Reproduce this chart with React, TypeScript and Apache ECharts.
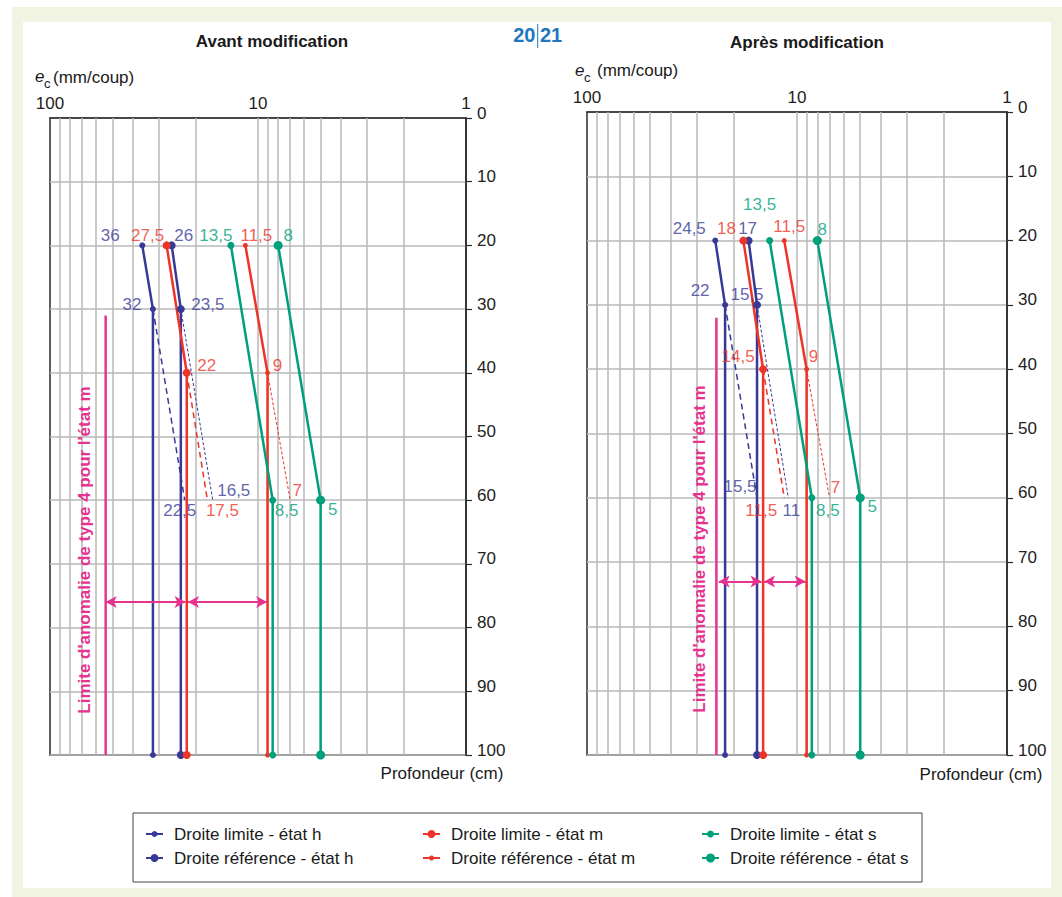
import React, { useEffect, useRef } from 'react';
import * as echarts from 'echarts';

// ---------- DATA ----------
// Depth ticks (cm) and e_c axis extent (mm/coup)
const DEPTH_MIN = 0;
const DEPTH_MAX = 100;
const DEPTH_STEP = 10;
const EC_MIN = 1;
const EC_MAX = 100;
const EC_GRID_VALUES = [2, 3, 4, 5, 6, 7, 8, 9, 10, 20, 30, 40, 50, 60, 70, 80, 90];

const SERIES_NAMES = [
  'Droite limite - état h',
  'Droite référence - état h',
  'Droite limite - état m',
  'Droite référence - état m',
  'Droite limite - état s',
  'Droite référence - état s',
];

// Avant modification: [e_c, profondeur]
const avantLimiteH = [[36, 20], [32, 30], [32, 100]];
const avantReferenceH = [[26, 20], [23.5, 30], [23.5, 100]];
const avantLimiteM = [[27.5, 20], [22, 40], [22, 100]];
const avantReferenceM = [[11.5, 20], [9, 40], [9, 100]];
const avantLimiteS = [[13.5, 20], [8.5, 60], [8.5, 100]];
const avantReferenceS = [[8, 20], [5, 60], [5, 100]];
const avantExtraLimiteH = [[32, 30], [22.5, 60]];
const avantExtraReferenceH = [[23.5, 30], [16.5, 60]];
const avantExtraLimiteM = [[22, 40], [17.5, 60]];
const avantExtraReferenceM = [[9, 40], [7, 60]];
const avantAnomalie = [[54, 31], [54, 100]];
const avantArrows = [[[54, 76], [22.3, 76]], [[21.7, 76], [9.05, 76]]];
const avantLabels = [
  [36, 20], [27.5, 20], [26, 20], [13.5, 20], [11.5, 20], [8, 20],
  [32, 30], [23.5, 30], [22, 40], [9, 40],
  [16.5, 60], [22.5, 60], [17.5, 60], [7, 60], [8.5, 60], [5, 60],
];
const avantLabelStates = ['h', 'm', 'h', 's', 'm', 's', 'h', 'h', 'm', 'm', 'h', 'h', 'm', 'm', 's', 's'];

// Après modification
const apresLimiteH = [[24.5, 20], [22, 30], [22, 100]];
const apresReferenceH = [[17, 20], [15.5, 30], [15.5, 100]];
const apresLimiteM = [[18, 20], [14.5, 40], [14.5, 100]];
const apresReferenceM = [[11.5, 20], [9, 40], [9, 100]];
const apresLimiteS = [[13.5, 20], [8.5, 60], [8.5, 100]];
const apresReferenceS = [[8, 20], [5, 60], [5, 100]];
const apresExtraLimiteH = [[22, 30], [15.5, 60]];
const apresExtraReferenceH = [[15.5, 30], [11, 60]];
const apresExtraLimiteM = [[14.5, 40], [11.5, 60]];
const apresExtraReferenceM = [[9, 40], [7, 60]];
const apresAnomalie = [[24.2, 32], [24.2, 100]];
const apresArrows = [[[23.6, 73], [14.75, 73]], [[14.35, 73], [9.1, 73]]];
const apresLabels = [
  [24.5, 20], [18, 20], [17, 20], [13.5, 20], [11.5, 20], [8, 20],
  [22, 30], [15.5, 30], [14.5, 40], [9, 40],
  [15.5, 60], [11.5, 60], [11, 60], [7, 60], [8.5, 60], [5, 60],
];
const apresLabelStates = ['h', 'm', 'h', 's', 'm', 's', 'h', 'h', 'm', 'm', 'h', 'm', 'h', 'm', 's', 's'];

// ---------- STYLE ----------
const FONT = '"Liberation Sans", Arial, Helvetica, sans-serif';
const COLORS: Record<string, string> = { h: '#363a96', m: '#ee3426', s: '#00a07c' };
const PINK = '#e6338f';
const GRID_GRAY = '#b9b9b9';
const DARK = '#2a2a2a';
const FS = 17;
// marker sizes: limite h, référence h, limite m, référence m, limite s, référence s
const MARKER_SIZES = [6, 8, 8, 5, 7, 9];
const avantLabelOffsets = [
  [-32, -10], [-19, -10], [12, -10], [-15, -10], [11, -10], [10, -10],
  [-21, -5], [27, -5], [20, -7], [10, -7],
  [21, -10], [-5, 10], [15, 10], [7, -10], [14, 10], [12, 9],
];
const apresLabelOffsets = [
  [-26, -12], [-17, -12], [-1, -12], [-10, -36], [5, -14], [5, -11],
  [-25, -14], [-10, -10], [-25, -13], [7, -13],
  [-17, -11], [-23, 13], [3, 13], [6, -10], [16, 13], [12, 9],
];

const fmt = (v: number) => String(v).replace('.', ',');

function mainLine(name: string, data: number[][], color: string, size: number, gi: number) {
  return {
    type: 'line', name, xAxisIndex: gi, yAxisIndex: gi, data,
    symbol: 'circle', symbolSize: size, showSymbol: true, showAllSymbol: true,
    lineStyle: { color, width: 2.5 }, itemStyle: { color },
    z: 4, silent: true, emphasis: { disabled: true },
  };
}

function extraLine(id: string, data: number[][], color: string, limite: boolean, gi: number) {
  return {
    type: 'line', name: id, xAxisIndex: gi, yAxisIndex: gi, data,
    symbol: 'none',
    lineStyle: limite ? { color, width: 1.5, type: [6, 4] } : { color, width: 1, type: [3, 2] },
    z: 3, silent: true, emphasis: { disabled: true },
  };
}

function panelSeries(gi: number, lines: number[][][], extras: number[][][], anomalie: number[][],
  arrows: number[][][], labels: number[][], states: string[], offsets: number[][]) {
  const states6 = ['h', 'h', 'm', 'm', 's', 's'];
  const out: any[] = [];
  out.push({
    type: 'line', name: 'grid' + gi, xAxisIndex: gi, yAxisIndex: gi, data: [[EC_MIN, DEPTH_MIN]],
    symbol: 'none', lineStyle: { opacity: 0 }, z: 1, silent: true,
    markLine: {
      silent: true, symbol: 'none', z: 1, animation: false,
      label: { show: false },
      lineStyle: { color: GRID_GRAY, width: 1.5, type: 'solid' },
      emphasis: { disabled: true },
      data: EC_GRID_VALUES.map((v) => ({ xAxis: v })),
    },
  });
  lines.forEach((d, i) => out.push(mainLine(SERIES_NAMES[i], d, COLORS[states6[i]], MARKER_SIZES[i], gi)));
  extras.forEach((d, i) => out.push(extraLine('extra' + gi + '_' + i, d, COLORS[states6[i]], i % 2 === 0, gi)));
  out.push({
    type: 'line', name: 'anomalie' + gi, xAxisIndex: gi, yAxisIndex: gi, data: anomalie,
    symbol: 'none', lineStyle: { color: PINK, width: 2.5 }, z: 3, silent: true,
    markLine: {
      silent: true, symbol: ['arrow', 'arrow'], symbolSize: [9, 11], z: 5, animation: false,
      label: { show: false },
      lineStyle: { color: PINK, width: 2, type: 'solid' },
      emphasis: { disabled: true },
      data: arrows.map((a) => [{ coord: a[0] }, { coord: a[1] }]),
    },
  });
  out.push({
    type: 'scatter', name: 'labels' + gi, xAxisIndex: gi, yAxisIndex: gi,
    symbolSize: 1, itemStyle: { color: 'transparent' }, z: 10, silent: true,
    emphasis: { disabled: true },
    data: labels.map((p, i) => ({
      value: p,
      label: {
        show: true, position: 'inside', offset: offsets[i], formatter: fmt(p[0]),
        color: COLORS[states[i]], fontSize: FS, fontFamily: FONT,
      },
    })),
  });
  return out;
}

function xAxisOpt(gi: number) {
  return {
    gridIndex: gi, type: 'log', logBase: 10, min: EC_MIN, max: EC_MAX, inverse: true, position: 'top',
    axisLine: { show: true, lineStyle: { color: DARK, width: 1.5 } },
    axisTick: { show: false },
    splitLine: { show: false },
    axisLabel: { fontSize: FS, color: '#222', margin: 6, fontFamily: FONT },
  };
}

function yAxisOpt(gi: number) {
  return {
    gridIndex: gi, type: 'value', inverse: true, min: DEPTH_MIN, max: DEPTH_MAX, interval: DEPTH_STEP,
    position: 'right',
    axisLine: { show: true, lineStyle: { color: DARK, width: 1.5 } },
    axisTick: { show: true, length: 6, lineStyle: { color: DARK, width: 1.2 } },
    splitLine: { show: true, lineStyle: { color: GRID_GRAY, width: 1.5 } },
    axisLabel: { fontSize: FS, color: '#222', margin: 11, verticalAlign: 'bottom', lineHeight: 10, fontFamily: FONT },
  };
}

function txt(text: string, x: number, y: number, extra: any = {}, rotation = 0) {
  return {
    type: 'text', x, y, rotation, silent: true, z: 20,
    style: {
      text, fill: extra.fill || '#1a1a1a', fontSize: extra.fontSize || FS,
      fontWeight: extra.fontWeight || 'normal', fontStyle: extra.fontStyle || 'normal',
      fontFamily: FONT,
      align: extra.align || 'left', textAlign: extra.align || 'left',
      verticalAlign: 'middle', textVerticalAlign: 'middle',
    },
  };
}

function buildOption() {
  const legendCols = [145, 422, 701];
  const legendRows = [825, 849];
  const legends = SERIES_NAMES.map((name, i) => ({
    data: [name],
    left: legendCols[Math.floor(i / 2)],
    top: legendRows[i % 2],
    orient: 'vertical', padding: 0, itemGap: 0,
    itemWidth: 17, itemHeight: MARKER_SIZES[i] / 0.8,
    selectedMode: false,
    textStyle: { fontSize: FS, color: '#1a1a1a', fontFamily: FONT, lineHeight: 18, padding: [0, 0, 0, 6] },
  }));

  const graphic: any[] = [
    { type: 'rect', z: -10, silent: true, shape: { x: 12, y: 7, width: 1050, height: 890 }, style: { fill: '#f1f4e3' } },
    { type: 'rect', z: -9, silent: true, shape: { x: 23, y: 22, width: 1028, height: 866 }, style: { fill: '#ffffff' } },
    { type: 'rect', z: 0, silent: true, shape: { x: 133, y: 813, width: 789, height: 69 }, style: { fill: '#ffffff', stroke: '#444', lineWidth: 1 } },
    txt('Avant modification', 272, 41, { fontWeight: 'bold', align: 'center' }),
    txt('Après modification', 807, 42, { fontWeight: 'bold', align: 'center' }),
    txt('20', 535.5, 35, { fontWeight: 'bold', fontSize: 20, fill: '#1f77c0', align: 'right' }),
    txt('21', 540, 35, { fontWeight: 'bold', fontSize: 20, fill: '#1f77c0', align: 'left' }),
    { type: 'line', silent: true, z: 20, shape: { x1: 537.7, y1: 24, x2: 537.7, y2: 48 }, style: { stroke: '#1f77c0', lineWidth: 1 } },
    txt('e', 35, 76, { fontStyle: 'italic' }),
    txt('c', 44, 83, { fontSize: 13 }),
    txt('(mm/coup)', 53, 77),
    txt('e', 575, 70, { fontStyle: 'italic' }),
    txt('c', 584, 77, { fontSize: 13 }),
    txt('(mm/coup)', 597, 70),
    txt('Profondeur (cm)', 442, 773, { align: 'center' }),
    txt('Profondeur (cm)', 981, 774, { align: 'center' }),
    txt("Limite d'anomalie de type 4 pour l'état m", 84, 550, { fontWeight: 'bold', fontSize: 17, fill: PINK, align: 'center' }, Math.PI / 2),
    txt("Limite d'anomalie de type 4 pour l'état m", 699, 549, { fontWeight: 'bold', fontSize: 17, fill: PINK, align: 'center' }, Math.PI / 2),
  ];

  return {
    animation: false,
    backgroundColor: '#ffffff',
    textStyle: { fontFamily: FONT },
    grid: [
      { left: 50, top: 118, width: 416, height: 637, show: true, borderColor: DARK, borderWidth: 1.5, backgroundColor: 'transparent' },
      { left: 587, top: 112, width: 420, height: 643, show: true, borderColor: DARK, borderWidth: 1.5, backgroundColor: 'transparent' },
    ],
    xAxis: [xAxisOpt(0), xAxisOpt(1)],
    yAxis: [yAxisOpt(0), yAxisOpt(1)],
    legend: legends,
    graphic,
    series: [
      ...panelSeries(0,
        [avantLimiteH, avantReferenceH, avantLimiteM, avantReferenceM, avantLimiteS, avantReferenceS],
        [avantExtraLimiteH, avantExtraReferenceH, avantExtraLimiteM, avantExtraReferenceM],
        avantAnomalie, avantArrows, avantLabels, avantLabelStates, avantLabelOffsets),
      ...panelSeries(1,
        [apresLimiteH, apresReferenceH, apresLimiteM, apresReferenceM, apresLimiteS, apresReferenceS],
        [apresExtraLimiteH, apresExtraReferenceH, apresExtraLimiteM, apresExtraReferenceM],
        apresAnomalie, apresArrows, apresLabels, apresLabelStates, apresLabelOffsets),
    ],
  };
}

export default function App() {
  const ref = useRef<HTMLDivElement>(null);
  useEffect(() => {
    document.body.style.margin = '0';
    const chart = echarts.init(ref.current as HTMLDivElement, null, { renderer: 'svg' });
    chart.setOption(buildOption() as any);
    return () => chart.dispose();
  }, []);
  return <div ref={ref} style={{ width: 1062, height: 897 }} />;
}
